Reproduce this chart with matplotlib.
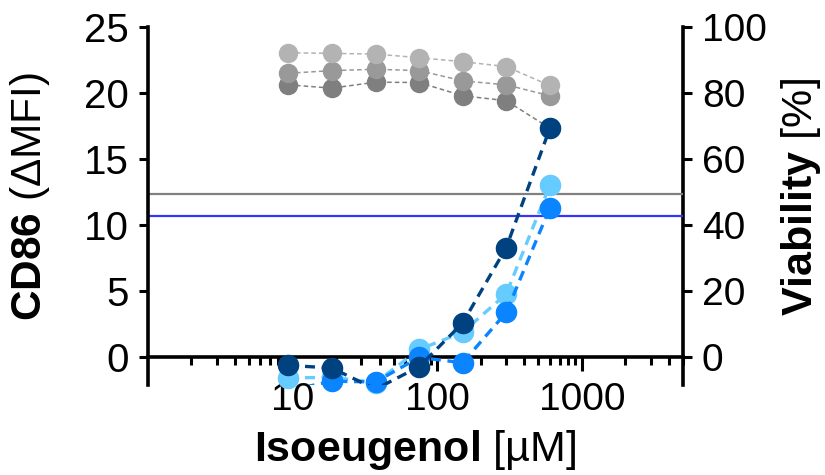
import numpy as np
import matplotlib
matplotlib.use("Agg")
import matplotlib.pyplot as plt
from matplotlib.ticker import FixedLocator, NullFormatter, FixedFormatter, LogLocator

plt.rcParams['font.family'] = ['Liberation Sans', 'DejaVu Sans']
plt.rcParams['mathtext.fontset'] = 'custom'
plt.rcParams['mathtext.rm'] = 'Liberation Sans'
plt.rcParams['mathtext.bf'] = 'Liberation Sans:bold'

# ---- data ----
conc = [9.375, 18.75, 37.5, 75, 150, 300, 600]  # Isoeugenol [µM]

cd86_light = [-1.55, -1.5, -1.9, 0.6, 1.9, 4.8, 13.0]
cd86_medium = [-2.5, -1.8, -1.85, 0.0, -0.4, 3.4, 11.3]
cd86_dark = [-0.6, -0.8, -2.4, -0.7, 2.6, 8.3, 17.3]

via_light = [92.1, 91.9, 91.7, 90.6, 89.4, 87.9, 82.2]
via_medium = [85.9, 86.7, 87.1, 86.7, 83.6, 82.4, 79.1]
via_dark = [82.4, 81.4, 83.2, 83.1, 79.1, 77.6, 69.3]

cd86_threshold_gray = 12.35
cd86_threshold_blue = 10.7

xticks = [10, 100, 1000]
xticklabels = ['10', '100', '1000']
yticks_left = [0, 5, 10, 15, 20, 25]
yticks_right = [0, 20, 40, 60, 80, 100]

# ---- figure ----
fig = plt.figure(figsize=(8.25, 4.75), dpi=100)
ax = fig.add_axes([0.179, 0.189, 0.649, 0.755])
ax2 = ax.twinx()
ax.set_zorder(ax2.get_zorder() + 1)
ax.patch.set_visible(False)

YMIN = -2.1
ax.set_xscale('log')
ax.set_xlim(1, 5000)
ax.set_ylim(YMIN, 25)
ax2.set_ylim(YMIN * 4, 100)

# viability (gray), right axis
for vals, col in [(via_dark, '#7f7f7f'), (via_medium, '#999999'), (via_light, '#b3b3b3')]:
    ax2.plot(conc, vals, color=col, lw=1.1, ls=(0, (3, 2)), marker='o', ms=13,
             mec=col, mfc=col)

# threshold lines
ax.axhline(cd86_threshold_gray, color='#808080', lw=1.6, zorder=1)
ax.axhline(cd86_threshold_blue, color='#3535ff', lw=1.6, zorder=1)

# CD86 (blue), left axis
for vals, col, z in [(cd86_light, '#66ccff', 3), (cd86_medium, '#0a84ff', 4), (cd86_dark, '#00427f', 5)]:
    x = np.array(conc)
    y = np.array(vals)
    ax.plot(x, y, color=col, lw=2.4, ls=(0, (3, 2)), zorder=z)
    m = y >= YMIN
    ax.plot(x[m], y[m], ls='none', marker='o', ms=14.5, mfc=col, mec=col,
            zorder=z, clip_on=False)

# spines
ax.spines['top'].set_visible(False)
ax2.spines['top'].set_visible(False)
ax2.spines['bottom'].set_visible(False)
ax2.spines['left'].set_visible(False)
ax.spines['right'].set_visible(False)
ax.spines['bottom'].set_position(('data', 0))
for sp in [ax.spines['bottom'], ax.spines['left'], ax2.spines['right']]:
    sp.set_linewidth(2.6)
    sp.set_color('black')

# ticks
ax.xaxis.set_major_locator(FixedLocator(xticks))
ax.xaxis.set_major_formatter(FixedFormatter(xticklabels))
ax.xaxis.set_minor_locator(LogLocator(base=10, subs=np.arange(2, 10), numticks=20))
ax.xaxis.set_minor_formatter(NullFormatter())
ax.tick_params(axis='x', which='major', direction='out', length=10, width=2.2,
               labelsize=28, pad=8)
ax.tick_params(axis='x', which='minor', direction='out', length=5.5, width=2.2)
ax.set_yticks(yticks_left)
ax.tick_params(axis='y', which='major', direction='out', length=6.5, width=2.2,
               labelsize=29, pad=7)
ax2.set_yticks(yticks_right)
ax2.tick_params(axis='y', which='major', direction='out', length=6.5, width=2.2,
                labelsize=28, pad=7)

# labels
ax.set_xlabel(r'$\mathbf{Isoeugenol}$ [µM]', fontsize=31)
ax.xaxis.set_label_coords(0.5, -0.12)
ax.set_ylabel(r'$\mathbf{CD86}$ (ΔMFI)', fontsize=30.5)
ax.yaxis.set_label_coords(-0.178, 0.527)
ax2.set_ylabel(r'$\mathbf{Viability}$ [%]', fontsize=31, rotation=90)
ax2.yaxis.set_label_coords(1.18, 0.524)

fig.savefig('out.png', dpi=100)
